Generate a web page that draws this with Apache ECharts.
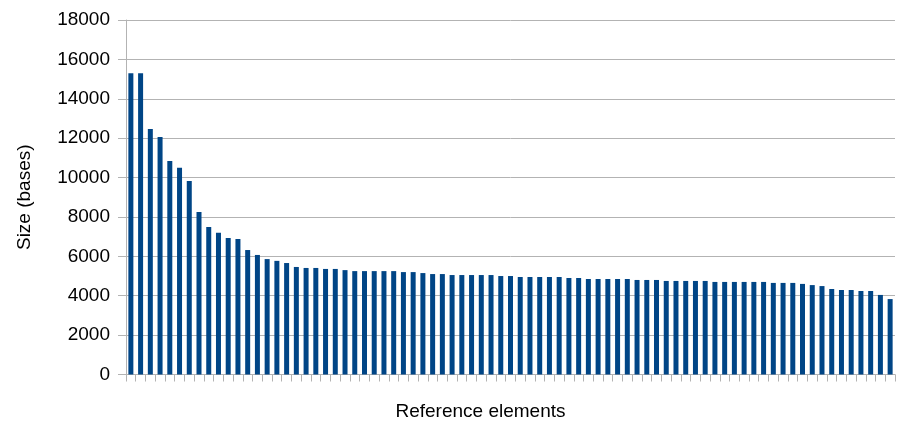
<!DOCTYPE html>
<html>
<head>
<meta charset="utf-8">
<script src="https://cdn.jsdelivr.net/npm/echarts@6/dist/echarts.min.js"></script>
<style>html,body{margin:0;padding:0;background:#fff;}#c{width:897px;height:421px;}</style>
</head>
<body>
<div id="c"></div>
<script>
var sizes = [15300, 15300, 12460, 12060, 10840, 10500, 9820, 8250, 7490, 7200,
  6930, 6880, 6320, 6070, 5860, 5770, 5660, 5460, 5410, 5410,
  5360, 5360, 5300, 5250, 5250, 5250, 5250, 5250, 5200, 5200,
  5150, 5100, 5100, 5050, 5050, 5050, 5050, 5050, 5000, 5000,
  4950, 4950, 4950, 4950, 4950, 4900, 4900, 4850, 4850, 4850,
  4850, 4850, 4800, 4800, 4800, 4750, 4750, 4750, 4750, 4750,
  4700, 4700, 4700, 4700, 4700, 4700, 4650, 4650, 4650, 4600,
  4540, 4490, 4340, 4290, 4290, 4240, 4240, 4040, 3830];
var categories = sizes.map(function (_, i) { return 'E' + (i + 1); });
var yTicks = { min: 0, max: 18000, interval: 2000 };
var yAxisName = 'Size (bases)';
var xAxisName = 'Reference elements';

var chart = echarts.init(document.getElementById('c'));
var fontFam = '"Liberation Sans", Arial, sans-serif';
chart.setOption({
  animation: false,
  backgroundColor: '#ffffff',
  grid: { left: 126, right: 2, top: 20, bottom: 46.5, containLabel: false, outerBoundsMode: 'none' },
  xAxis: {
    type: 'category',
    data: categories,
    boundaryGap: true,
    name: xAxisName,
    nameLocation: 'middle',
    nameGap: 28,
    nameTextStyle: { color: '#000', fontSize: 19, fontFamily: fontFam, padding: [0, 60, 0, 0] },
    axisLine: { lineStyle: { color: '#b3b3b3', width: 1 } },
    axisTick: { show: true, interval: 0, length: 7, lineStyle: { color: '#b3b3b3' } },
    axisLabel: { show: false },
    splitLine: { show: false }
  },
  yAxis: {
    type: 'value',
    min: yTicks.min,
    max: yTicks.max,
    interval: yTicks.interval,
    name: yAxisName,
    nameLocation: 'middle',
    nameGap: 92,
    nameRotate: 90,
    nameTextStyle: { color: '#000', fontSize: 19, fontFamily: fontFam },
    axisLine: { show: true, lineStyle: { color: '#b3b3b3', width: 1 } },
    axisTick: { show: true, length: 8, lineStyle: { color: '#b3b3b3' } },
    axisLabel: { color: '#000', fontSize: 19, fontFamily: fontFam, margin: 16,
      formatter: function (v) { return String(v); } },
    splitLine: { show: true, lineStyle: { color: '#b3b3b3', width: 1 } }
  },
  series: [{
    type: 'bar',
    data: sizes,
    barWidth: 5,
    itemStyle: { color: '#004586' }
  }]
});
</script>
</body>
</html>
